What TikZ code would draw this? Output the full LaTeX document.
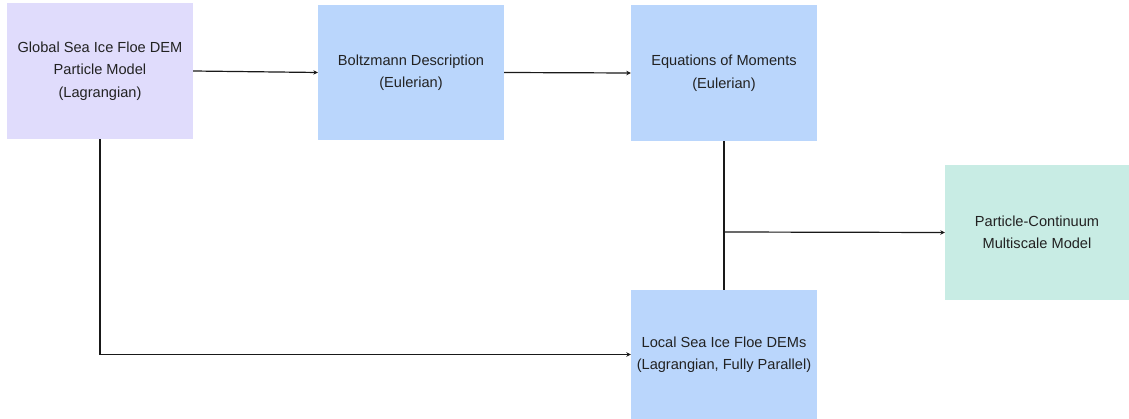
\documentclass[tikz,border=0pt]{standalone}
\usepackage{fontspec}
\setmainfont{Liberation Sans}
\usetikzlibrary{arrows.meta}
\definecolor{cpurple}{RGB}{224,220,252}
\definecolor{cblue}{RGB}{186,214,252}
\definecolor{cgreen}{RGB}{200,236,228}
\definecolor{ctext}{RGB}{34,34,34}
\tikzset{
  box/.style={rectangle, inner sep=0pt, align=center, text=ctext, font=\fontsize{14.6}{22.5}\selectfont},
  conn/.style={draw=black!90, line width=1.2pt},
  arr/.style={conn, -{Stealth[length=4.5pt,width=4.5pt]}}
}
\begin{document}
\begin{tikzpicture}[x=1pt,y=-1pt]
\useasboundingbox (0,0) rectangle (1129,419);
\node[box, fill=cpurple, minimum width=186pt, minimum height=136pt] (A) at (100,71) {Global Sea Ice Floe DEM\\Particle Model\\(Lagrangian)};
\node[box, fill=cblue, minimum width=186pt, minimum height=135pt] (B) at (411,72.5) {Boltzmann Description\\(Eulerian)};
\node[box, fill=cblue, minimum width=186pt, minimum height=136pt] (C) at (724,73) {Equations of Moments\\(Eulerian)};
\node[box, fill=cgreen, minimum width=184pt, minimum height=135pt] (D) at (1037,232.5) {Particle-Continuum\\Multiscale Model};
\node[box, fill=cblue, minimum width=186pt, minimum height=129pt] (E) at (724,354.5) {Local Sea Ice Floe DEMs\\(Lagrangian, Fully Parallel)};
\coordinate (J) at (724,232);
\draw[arr] (A.east) -- (B.west);
\draw[arr] (B.east) -- (C.west);
\draw[arr] (A.south) -- (A.south |- E.west) -- (E.west);
\draw[conn] (C.south) -- (E.north);
\draw[arr] (J) -- (D.west);
\end{tikzpicture}
\end{document}
